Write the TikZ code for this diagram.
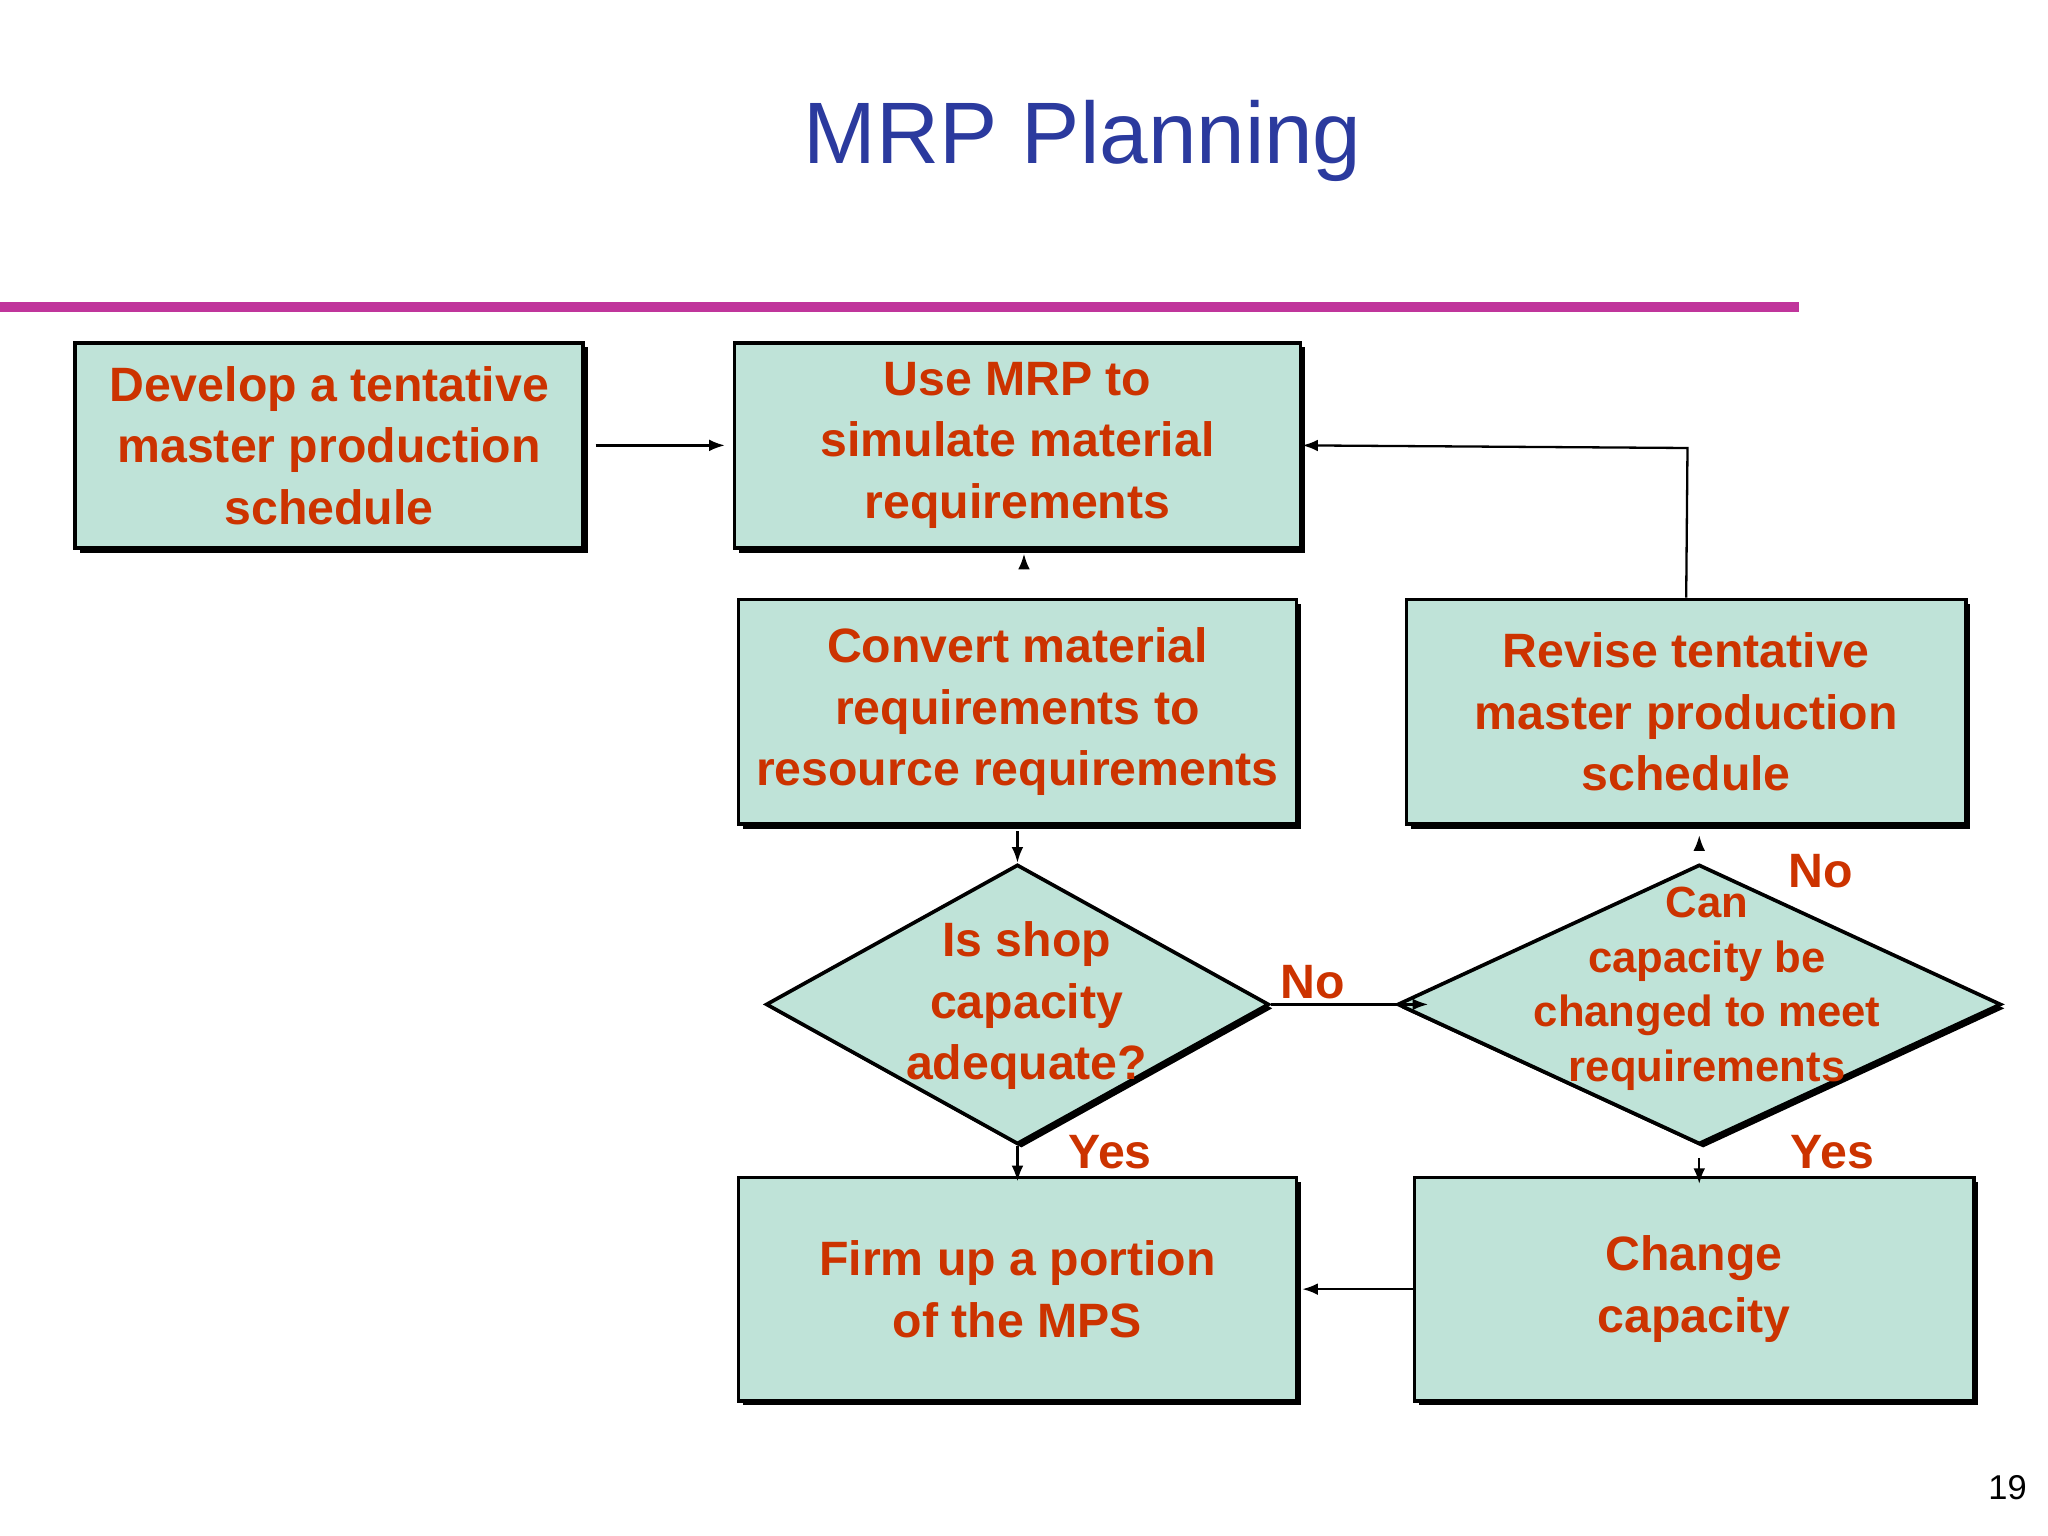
\documentclass[tikz,border=0pt]{standalone}
\usepackage{fontspec}
\setmainfont{Liberation Sans}
\usetikzlibrary{shapes.geometric,shadows,arrows.meta}
\definecolor{boxfill}{HTML}{BFE3D8}
\definecolor{txtred}{HTML}{CC3300}
\definecolor{ttlblue}{HTML}{2B3A9E}
\definecolor{pink}{HTML}{C0359B}
\begin{document}
\begin{tikzpicture}[x=0.01cm,y=-0.01cm,
  box/.style={draw=black, line width=0.8pt, fill=boxfill, rectangle, inner sep=0pt,
    drop shadow={shadow xshift=0.035cm, shadow yshift=-0.035cm, opacity=1, fill=black}},
  dia/.style={draw=black, line width=0.8pt, fill=boxfill, diamond, inner sep=0pt,
    drop shadow={shadow xshift=0.03cm, shadow yshift=-0.03cm, opacity=1, fill=black}},
  txt/.style={text=txtred, font=\bfseries\fontsize{10.5}{13.4}\selectfont, align=center},
  stxt/.style={text=txtred, font=\bfseries\fontsize{9.5}{11.9}\selectfont, align=center},
  lbl/.style={text=txtred, font=\bfseries\fontsize{10.5}{12}\selectfont},
  arr/.style={-{Latex[length=0.12cm,width=0.09cm]}, line width=0.5pt}]
\useasboundingbox (0,0) rectangle (1568,1176);
\node[text=ttlblue, font=\fontsize{19}{22}\selectfont] (title) at (829,108) {MRP Planning};
\draw[pink, line width=2pt] (0,235) -- (1377,235);
\node[font=\fontsize{7.5}{9}\selectfont] (pg) at (1537,1139) {19};

\node[box, minimum width=3.89cm, minimum height=1.57cm] (a) at (252,341) {};
\node[txt] at (a) {Develop a tentative\\master production\\schedule};
\node[box, minimum width=4.33cm, minimum height=1.57cm] (b) at (779,341) {};
\node[txt] at (b) {Use MRP to\\simulate material\\requirements};
\node[box, minimum width=4.27cm, minimum height=1.72cm] (c) at (779,545) {};
\node[txt] at (c) {Convert material\\requirements to\\resource requirements};
\node[box, minimum width=4.28cm, minimum height=1.72cm] (d) at (1291,545) {};
\node[txt] at (1291,545) {Revise tentative\\master production\\schedule};
\node[dia, minimum width=3.85cm, minimum height=2.14cm] (d1) at (779,769) {};
\node[txt] at (786,770) {Is shop\\capacity\\adequate?};
\node[dia, minimum width=4.62cm, minimum height=2.14cm] (d2) at (1301,769) {};
\node[stxt] at (1307,757) {Can\\capacity be\\changed to meet\\requirements};
\node[box, minimum width=4.27cm, minimum height=1.71cm] (e) at (779,987) {};
\node[txt] at (e) {Firm up a portion\\of the MPS};
\node[box, minimum width=4.28cm, minimum height=1.71cm] (f) at (1297,987) {};
\node[txt] at (f) {Change\\capacity};

\draw[arr] ([xshift=0.08cm]a.east) -- ([xshift=-0.06cm]b.west);
\draw[arr] ([xshift=0.05cm,yshift=-0.15cm]b.south) -- ([xshift=0.05cm,yshift=-0.03cm]b.south);
\draw[arr] ([yshift=-0.04cm]c.south) -- (d1.north);
\draw[arr] (d1.east) -- ([xshift=0.25cm]d2.west);
\node[lbl] (no1) at (1005,752) {No};
\draw[arr] (d1.south) -- ([yshift=-0.27cm]d1.south);
\node[lbl] (yes1) at (850,882) {Yes};
\coordinate (dt) at ([yshift=0.1cm]d2.north);
\draw[arr] (dt) -- ([xshift=0.1cm,yshift=-0.07cm]d.south);
\node[lbl] (no2) at (1394,667) {No};
\draw[arr] ([yshift=-0.09cm]d2.south) -- ([yshift=-0.29cm]d2.south);
\node[lbl] (yes2) at (1403,882) {Yes};
\draw[arr] (f.west) -- ([xshift=0.03cm]e.east);
\draw[arr] (d.north) -- (1292,343) -- (b.east);
\end{tikzpicture}
\end{document}
